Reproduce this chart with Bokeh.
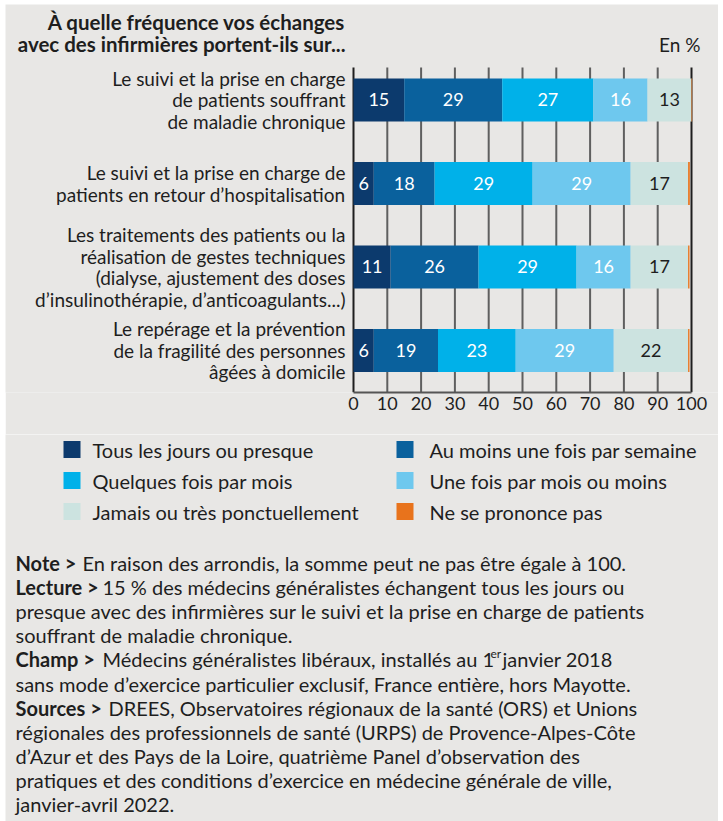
from bokeh.plotting import figure
from bokeh.models import Range1d, FixedTicker
from bokeh.layouts import column
from bokeh.embed import file_html
from bokeh.resources import INLINE
from bokeh.core.properties import value

# ---------------- data ----------------
categories = [
    "Le suivi et la prise en charge\nde patients souffrant\nde maladie chronique",
    "Le suivi et la prise en charge de\npatients en retour d\u2019hospitalisation",
    "Les traitements des patients ou la\nr\u00e9alisation de gestes techniques\n(dialyse, ajustement des doses\nd\u2019insulinoth\u00e9rapie, d\u2019anticoagulants...)",
    "Le rep\u00e9rage et la pr\u00e9vention\nde la fragilit\u00e9 des personnes\n\u00e2g\u00e9es \u00e0 domicile",
]
series_names = [
    "Tous les jours ou presque",
    "Au moins une fois par semaine",
    "Quelques fois par mois",
    "Une fois par mois ou moins",
    "Jamais ou tr\u00e8s ponctuellement",
    "Ne se prononce pas",
]
tous_les_jours = [15, 6, 11, 6]
au_moins_semaine = [29, 18, 26, 19]
quelques_fois_mois = [27, 29, 29, 23]
une_fois_mois_ou_moins = [16, 29, 16, 29]
jamais = [13, 17, 17, 22]
ne_se_prononce_pas = [0.2, 0.5, 0.4, 0.4]
x_ticks = [0, 10, 20, 30, 40, 50, 60, 70, 80, 90, 100]

title_lines = ["\u00c0 quelle fr\u00e9quence vos \u00e9changes",
               "avec des infirmi\u00e8res portent-ils sur..."]
unit_text = "En %"

note_bold = ["Note >", "Lecture >", "", "", "Champ >", "", "Sources >", "", "", "", ""]
note_regular = [
    "En raison des arrondis, la somme peut ne pas \u00eatre \u00e9gale \u00e0 100.",
    "15 % des m\u00e9decins g\u00e9n\u00e9ralistes \u00e9changent tous les jours ou",
    "presque avec des infirmi\u00e8res sur le suivi et la prise en charge de patients",
    "souffrant de maladie chronique.",
    "M\u00e9decins g\u00e9n\u00e9ralistes lib\u00e9raux, install\u00e9s au 1",
    "sans mode d\u2019exercice particulier exclusif, France enti\u00e8re, hors Mayotte.",
    "DREES, Observatoires r\u00e9gionaux de la sant\u00e9 (ORS) et Unions",
    "r\u00e9gionales des professionnels de sant\u00e9 (URPS) de Provence-Alpes-C\u00f4te",
    "d\u2019Azur et des Pays de la Loire, quatri\u00e8me Panel d\u2019observation des",
    "pratiques et des conditions d\u2019exercice en m\u00e9decine g\u00e9n\u00e9rale de ville,",
    "janvier-avril 2022.",
]
champ_sup = "er"
champ_rest = " janvier 2018"

# ---------------- styles ----------------
series_values = [tous_les_jours, au_moins_semaine, quelques_fois_mois,
                 une_fois_mois_ou_moins, jamais, ne_se_prononce_pas]
colors = ["#0c3a6d", "#0a619d", "#00b1e9", "#6ec8ee", "#cce3e0", "#e8731c"]
value_colors = ["#ffffff", "#ffffff", "#ffffff", "#ffffff", "#1e1e1e", None]

FONT = "Lato"
BG = "#e8e7e5"
TXT = "#1e1e1e"

W = 713
FRAME_H = 388
AXIS_H = 42
H1 = FRAME_H + AXIS_H
X0, X100 = 348, 686          # canvas pixel of 0 and 100
PXU = (X100 - X0) / 100.0
Y_PX = 83.5
Y_LOW = 0.497


def y_of(canvas_y):
    return Y_LOW + (FRAME_H - canvas_y) / Y_PX


n = len(categories)
ypos = [n - i for i in range(n)]

p = figure(width=W, height=H1,
           x_range=Range1d(-X0 / PXU, (W - X0) / PXU),
           y_range=Range1d(Y_LOW, Y_LOW + FRAME_H / Y_PX),
           output_backend="svg", toolbar_location=None,
           min_border_left=0, min_border_right=0, min_border_top=0,
           min_border_bottom=AXIS_H, y_axis_location=None,
           background_fill_color=BG, border_fill_color=BG,
           outline_line_color=None, margin=(4, 0, 0, 5))
p.xgrid.visible = False
p.ygrid.visible = False
ax = p.xaxis[0]
ax.ticker = FixedTicker(ticks=x_ticks)
ax.bounds = (x_ticks[0], x_ticks[-1])
ax.axis_line_color = "#555555"
ax.axis_line_width = 2
ax.major_tick_line_color = None
ax.minor_tick_line_color = None
ax.major_tick_out = 0
ax.major_tick_in = 0
ax.major_label_standoff = 4
ax.major_label_text_font = FONT
ax.major_label_text_font_size = "18px"
ax.major_label_text_color = TXT

# vertical grid lines
grid_colors = ["#1e1e1e" if t in (x_ticks[0], x_ticks[-1]) else "#5f5f5f" for t in x_ticks]
p.segment(x0=x_ticks, y0=[Y_LOW] * len(x_ticks), x1=x_ticks,
          y1=[y_of(63)] * len(x_ticks), line_color=grid_colors, line_width=2)

# stacked bars
left = [0.0] * n
for vals, col, tcol in zip(series_values, colors, value_colors):
    right = [l + v for l, v in zip(left, vals)]
    p.hbar(y=ypos, left=left, right=right, height=0.515,
           fill_color=col, line_color=None)
    if tcol is not None:
        p.text(x=[(l + r) / 2 for l, r in zip(left, right)], y=ypos,
               text=[str(v) for v in vals], text_align="center",
               text_baseline="middle", text_font=value(FONT),
               text_font_size="18px", text_color=tcol)
    left = right

# category labels (one text per line)
LH = 21.5
cx, cy, ct, co = [], [], [], []
for yc, cat in zip(ypos, categories):
    parts = cat.split("\n")
    k = len(parts)
    for j, line in enumerate(parts):
        cx.append(0)
        cy.append(yc)
        ct.append(line)
        co.append((j - (k - 1) / 2.0) * LH)
p.text(x=cx, y=cy, text=ct, x_offset=-8, y_offset=co,
       text_align="right", text_baseline="middle", text_font=value(FONT),
       text_font_size="19px", text_color=TXT)

# title and unit
p.text(x=[0, 0], y=[y_of(17), y_of(39)], text=title_lines, x_offset=-8,
       text_align="right", text_baseline="middle", text_font=value(FONT),
       text_font_style="bold", text_font_size="20.5px", text_color=TXT)
p.text(x=[x_ticks[-1]], y=[y_of(40)], text=[unit_text], x_offset=9,
       text_align="right", text_baseline="middle", text_font=value(FONT),
       text_font_size="19px", text_color=TXT)

# ---------------- legend + notes ----------------
H2 = 821 - 4 - H1
q = figure(width=W, height=H2, x_range=Range1d(0, W), y_range=Range1d(H2, 0),
           output_backend="svg", toolbar_location=None,
           min_border_left=0, min_border_right=0, min_border_top=0,
           min_border_bottom=0, x_axis_location=None, y_axis_location=None,
           background_fill_color=BG, border_fill_color=BG,
           outline_line_color=None, margin=(0, 0, 0, 5))
q.xgrid.visible = False
q.ygrid.visible = False

sq_x = [66.5, 399.5]
tx_x = [87, 424]
row_y = [15, 46, 77]
lcol, ly = [], []
for i, name in enumerate(series_names):
    lcol.append(i % 2)
    ly.append(row_y[i // 2])
q.rect(x=[sq_x[c] for c in lcol], y=ly, width=17, height=17,
       fill_color=colors, line_color=None)
q.text(x=[tx_x[c] for c in lcol], y=ly, text=series_names, text_baseline="middle",
       text_font=value(FONT), text_font_size="20px", text_color=TXT)

note_y = [128.5 + 24.1 * i for i in range(len(note_regular))]
NOTE_X = 10
reg_x = {"Note >": 77, "Lecture >": 97, "Champ >": 97, "Sources >": 103, "": NOTE_X}
bold_idx = [i for i, b in enumerate(note_bold) if b]
q.text(x=[NOTE_X] * len(bold_idx), y=[note_y[i] for i in bold_idx],
       text=[note_bold[i] for i in bold_idx], text_baseline="middle",
       text_font=value(FONT), text_font_style="bold", text_font_size="20px",
       text_color=TXT)
q.text(x=[reg_x[b] for b in note_bold], y=note_y, text=note_regular,
       text_baseline="middle", text_font=value(FONT), text_font_size="20px",
       text_color=TXT)
champ_i = note_bold.index("Champ >")
q.text(x=[485], y=[note_y[champ_i] - 6], text=[champ_sup], text_baseline="middle",
       text_font=value(FONT), text_font_size="12px", text_color=TXT)
q.text(x=[497], y=[note_y[champ_i]], text=[champ_rest], text_baseline="middle",
       text_font=value(FONT), text_font_size="20px", text_color=TXT)

layout = column(p, q, spacing=0)
open("out.html", "w").write(file_html(layout, INLINE))
